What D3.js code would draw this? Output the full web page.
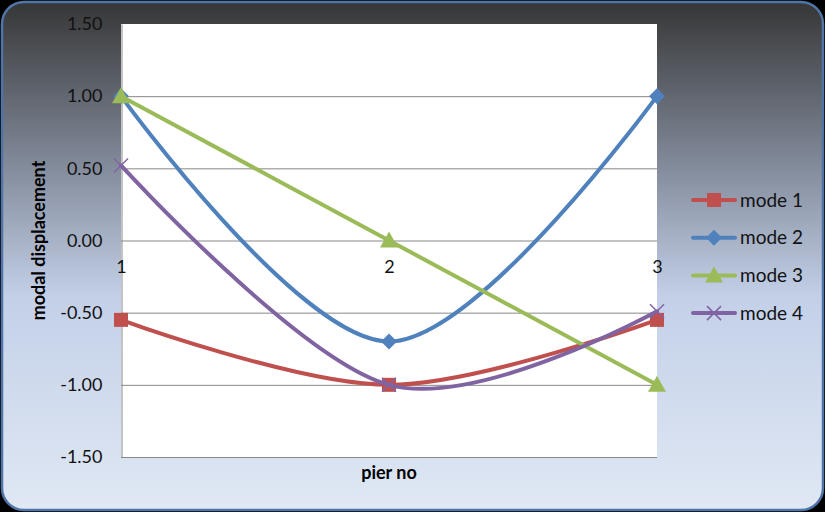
<!DOCTYPE html>
<html>
<head>
<meta charset="utf-8">
<script src="https://cdn.jsdelivr.net/npm/d3@7"></script>
<style>
  html, body { margin: 0; padding: 0; background: #000; }
  svg { display: block; }
</style>
</head>
<body>
<div id="chart"></div>
<script>
// chart data
const piers = ["1", "2", "3"];
const seriesNames = ["mode 1", "mode 2", "mode 3", "mode 4"];
const mode1 = [-0.55, -1.0, -0.55];
const mode2 = [1.0, -0.70, 1.0];
const mode3 = [1.0, 0.0, -1.0];
const mode4 = [0.52, -1.0, -0.49];
const yTicks = [-1.5, -1.0, -0.5, 0, 0.5, 1.0, 1.5];

const colors = ["#c0504d", "#4f81bd", "#9bbb59", "#8064a2"];
const markers = ["square", "diamond", "triangle", "cross"];
const series = [mode1, mode2, mode3, mode4].map((vals, i) => ({
  name: seriesNames[i], color: colors[i], marker: markers[i],
  values: vals.map((v, j) => ({ pier: piers[j], value: v }))
}));

const width = 825, height = 512;
const marginLeft = 121, marginRight = 168, marginTop = 24, marginBottom = 55;
const font = "Lato, 'Open Sans', sans-serif";

const svg = d3.select("#chart").append("svg")
  .attr("width", width)
  .attr("height", height)
  .attr("viewBox", [0, 0, width, height]);

const defs = svg.append("defs");
const grad = defs.append("linearGradient")
  .attr("id", "bg").attr("x1", 0).attr("y1", 0).attr("x2", 0).attr("y2", 1);
grad.append("stop").attr("offset", "0%").attr("stop-color", "#363636");
grad.append("stop").attr("offset", "30%").attr("stop-color", "#7d8594");
grad.append("stop").attr("offset", "58%").attr("stop-color", "#c3d0e8");
grad.append("stop").attr("offset", "100%").attr("stop-color", "#e0e8f4");

// background frame
svg.append("rect")
  .attr("x", 2).attr("y", 2)
  .attr("width", width - 4).attr("height", height - 4)
  .attr("rx", 22).attr("ry", 22)
  .attr("fill", "url(#bg)")
  .attr("stroke", "#4f74a8")
  .attr("stroke-width", 2.5);

const x = d3.scalePoint()
  .domain(piers)
  .range([marginLeft, width - marginRight]);

const y = d3.scaleLinear()
  .domain([-1.5, 1.5])
  .range([height - marginBottom, marginTop]);

// plot area
svg.append("rect")
  .attr("x", marginLeft).attr("y", marginTop)
  .attr("width", width - marginRight - marginLeft)
  .attr("height", height - marginBottom - marginTop)
  .attr("fill", "#fff");

// gridlines
svg.append("g")
  .selectAll("line")
  .data(yTicks.filter(d => d < 1.5))
  .join("line")
  .attr("x1", marginLeft).attr("x2", width - marginRight)
  .attr("y1", d => y(d) + 0.5).attr("y2", d => y(d) + 0.5)
  .attr("stroke", "#878787").attr("stroke-width", 1);

// y axis (hyphen minus like excel)
svg.append("g")
  .attr("transform", `translate(${marginLeft + 0.5},0)`)
  .call(d3.axisLeft(y).tickValues(yTicks).tickFormat(d => d.toFixed(2)).tickSize(0).tickPadding(19))
  .call(g => g.select(".domain").attr("stroke", "#878787"))
  .call(g => g.selectAll("text")
    .attr("font-family", font)
    .attr("font-size", 18)
    .attr("fill", "#111"));

// x axis at zero
svg.append("g")
  .attr("transform", `translate(0,${y(0)})`)
  .call(d3.axisBottom(x).tickSize(0).tickPadding(20))
  .call(g => g.select(".domain").remove())
  .call(g => g.selectAll("text")
    .attr("font-family", font)
    .attr("font-size", 18)
    .attr("fill", "#111"));

// axis titles
svg.append("text")
  .attr("transform", `translate(45,${y(0)}) rotate(-90)`)
  .attr("text-anchor", "middle")
  .attr("font-family", font)
  .attr("font-weight", "bold")
  .attr("font-size", 18)
  .attr("fill", "#000")
  .text("modal displacement");

svg.append("text")
  .attr("x", x("2"))
  .attr("y", 479)
  .attr("text-anchor", "middle")
  .attr("font-family", font)
  .attr("font-weight", "bold")
  .attr("font-size", 18)
  .attr("fill", "#000")
  .text("pier no");

const line = d3.line()
  .x(d => x(d.pier))
  .y(d => y(d.value))
  .curve(d3.curveCardinal.tension(0));

function drawMarker(g, type, color) {
  if (type === "square") {
    g.append("rect").attr("x", -7).attr("y", -7).attr("width", 14).attr("height", 14).attr("fill", color);
  } else if (type === "diamond") {
    g.append("path").attr("d", "M0,-8L8,0L0,8L-8,0Z").attr("fill", color);
  } else if (type === "triangle") {
    g.append("path").attr("d", "M0,-9L9,7L-9,7Z").attr("fill", color);
  } else {
    g.append("path").attr("d", "M-7,-7L7,7M-7,7L7,-7").attr("stroke", color).attr("stroke-width", 1.5).attr("fill", "none");
  }
}

const sg = svg.append("g")
  .selectAll("g")
  .data(series)
  .join("g");

sg.append("path")
  .attr("fill", "none")
  .attr("stroke", d => d.color)
  .attr("stroke-width", 4)
  .attr("stroke-linecap", "round")
  .attr("d", d => line(d.values));

sg.each(function(s) {
  d3.select(this).selectAll("g.mk")
    .data(s.values)
    .join("g")
    .attr("class", "mk")
    .attr("transform", d => `translate(${x(d.pier)},${y(d.value)})`)
    .each(function() { drawMarker(d3.select(this), s.marker, s.color); });
});

// legend
const legend = svg.append("g")
  .selectAll("g")
  .data(series)
  .join("g")
  .attr("transform", (d, i) => `translate(693,${200 + i * 37.7})`);

legend.append("line")
  .attr("x1", 0).attr("x2", 42)
  .attr("stroke", d => d.color)
  .attr("stroke-width", 4)
  .attr("stroke-linecap", "round");

legend.append("g")
  .attr("transform", "translate(21,0)")
  .each(function(d) { drawMarker(d3.select(this), d.marker, d.color); });

legend.append("text")
  .attr("x", 47)
  .attr("dy", "0.35em")
  .attr("font-family", font)
  .attr("font-size", 19)
  .attr("fill", "#111")
  .text(d => d.name);
</script>
</body>
</html>
